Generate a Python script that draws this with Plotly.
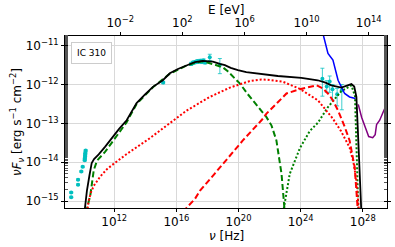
import numpy as np
import plotly.graph_objects as go

H_EV = 4.135667e-15  # Planck constant [eV s]

# ---- model curves (log10 nu [Hz], log10 nuFnu [erg s^-1 cm^-2]) ----
total_lognu = [10.08, 10.24, 10.40, 10.55, 10.7, 11.0, 11.42, 12.0, 12.3, 12.8, 13.44, 14.0, 14.49,
               15.13, 15.58, 16.1, 16.66, 17.2, 17.7, 18.35, 18.8, 19.12, 19.5, 19.96, 20.5, 21.05,
               22.53, 24.05, 25.1, 25.6, 25.98, 26.62, 27.0, 27.27, 27.45, 27.59, 27.67, 27.91]
total_logf = [-15.3, -14.74, -14.35, -14.02, -13.92, -13.8, -13.6, -13.3, -13.15, -12.92, -12.48, -12.25,
              -12.06, -11.89, -11.71, -11.6, -11.5, -11.42, -11.39, -11.41, -11.47, -11.5, -11.57, -11.63,
              -11.68, -11.71, -11.78, -11.83, -11.89, -11.95, -12.02, -12.08, -12.03, -11.99, -12.05,
              -12.32, -13.05, -15.3]

sync_lognu = [10.18, 10.46, 10.68, 10.89, 11.42, 12.0, 12.8, 13.44, 14.49, 15.58, 16.66, 17.19, 17.7,
              18.48, 19.0, 19.31, 20.08, 20.6, 20.92, 21.48, 21.8, 22.12, 22.44, 22.77, 22.98]
sync_logf = [-15.3, -14.85, -14.21, -13.96, -13.73, -13.4, -12.97, -12.5, -12.07, -11.72, -11.51, -11.44,
             -11.4, -11.49, -11.56, -11.66, -11.97, -12.25, -12.4, -12.67, -12.84, -13.05, -13.44, -14.3,
             -15.3]

ssc_lognu = [22.87, 22.98, 23.3, 23.94, 24.26, 24.58, 25.12, 25.76, 26.62, 27.27, 27.5, 27.72]
ssc_logf = [-15.3, -15.07, -14.3, -13.65, -13.44, -13.2, -12.98, -12.58, -12.17, -12.02, -12.3, -15.3]

ext_lognu = [10.25, 10.35, 10.5, 10.68, 11.1, 11.53, 11.94, 12.8, 14.3, 15.79, 16.66, 18.15, 19.44,
             20.73, 21.48, 21.8, 22.87, 23.94, 24.58, 25.12, 26.06, 26.6, 27.15, 27.4, 27.59, 27.76]
ext_logf = [-15.3, -15.0, -14.78, -14.61, -14.37, -14.18, -14.05, -13.79, -13.38, -12.92, -12.67, -12.32,
            -12.08, -11.91, -11.87, -11.875, -11.93, -12.11, -12.28, -12.41, -12.87, -13.2, -13.62, -14.0,
            -14.48, -15.3]

ec_lognu = [16.5, 16.66, 17.19, 17.51, 18.5, 19.33, 20.28, 21.48, 21.8, 22.5, 23.09, 23.94, 24.58, 25.02,
            25.44, 25.8, 26.08, 26.41, 26.8, 27.15, 27.48, 27.69]
ec_logf = [-15.3, -15.17, -14.95, -14.74, -14.28, -13.88, -13.44, -12.92, -12.75, -12.47, -12.23, -12.12,
           -12.06, -12.02, -12.1, -12.25, -12.41, -12.67, -13.05, -13.44, -14.13, -15.3]

sens1_lognu = [25.38, 25.76, 26.08, 26.3, 26.41, 26.62, 26.83, 27.15, 27.53]
sens1_logf = [-10.6, -11.2, -11.37, -11.71, -11.89, -12.06, -12.23, -12.32, -12.36]

sens2_lognu = [27.71, 27.93, 28.19, 28.38, 28.64, 28.8, 28.89, 29.09, 29.28, 29.6]
sens2_logf = [-12.51, -12.85, -13.13, -13.34, -13.37, -13.29, -13.03, -12.92, -12.74, -12.45]

# ---- observed data (log10 nu, log10 nuFnu, err down [dex], err up [dex]) ----
data_lognu = [9.23, 9.23, 9.67, 9.67, 9.88, 9.97, 10.10, 10.11, 10.12, 10.13, 10.14, 10.16,
              15.15,
              16.95, 17.05, 17.15, 17.25, 17.35, 17.45, 17.55, 17.65, 17.75, 17.85, 18.15, 18.8,
              25.40, 25.68, 25.87, 26.05, 26.35, 26.65]
data_logf = [-14.78, -14.9, -14.45, -14.58, -14.24, -14.12, -13.95, -13.9, -13.85, -13.8, -13.76, -13.7,
             -11.95,
             -11.47, -11.44, -11.43, -11.42, -11.4, -11.41, -11.39, -11.42, -11.38, -11.43, -11.3, -11.5,
             -11.85, -12.05, -11.92, -12.12, -12.25, -12.15]
data_errlo = [0.02] * 12 + [0.03] + [0.04] * 10 + [0.08, 0.22] + [0.45, 0.15, 0.28, 0.28, 0.3, 0.5]
data_errhi = [0.02] * 12 + [0.03] + [0.04] * 10 + [0.08, 0.17] + [0.27, 0.15, 0.14, 0.12, 0.15, 0.15]

y_tickvals = [1e-15, 1e-14, 1e-13, 1e-12, 1e-11]
y_ticktext = ["10<sup>\u221215</sup>", "10<sup>\u221214</sup>", "10<sup>\u221213</sup>",
              "10<sup>\u221212</sup>", "10<sup>\u221211</sup>"]
x_tickvals = [1e12, 1e16, 1e20, 1e24, 1e28]
x_ticktext = ["10<sup>12</sup>", "10<sup>16</sup>", "10<sup>20</sup>", "10<sup>24</sup>", "10<sup>28</sup>"]
e_tickvals = [1e-2, 1e2, 1e6, 1e10, 1e14]
e_ticktext = ["10<sup>\u22122</sup>", "10<sup>2</sup>", "10<sup>6</sup>", "10<sup>10</sup>", "10<sup>14</sup>"]

X_LOG_RANGE = [8.83, 29.56]
Y_LOG_RANGE = [-15.18, -10.75]


def lin(a):
    return 10 ** np.asarray(a, dtype=float)


fig = go.Figure()

# data points
dnu = lin(data_lognu)
df = lin(data_logf)
fig.add_trace(go.Scatter(
    x=dnu, y=df, mode="markers",
    marker=dict(color="#00bfbf", size=4),
    error_y=dict(type="data", symmetric=False,
                 array=lin(np.array(data_logf) + np.array(data_errhi)) - df,
                 arrayminus=df - lin(np.array(data_logf) - np.array(data_errlo)),
                 color="rgba(0,191,191,0.75)", thickness=1, width=2),
    showlegend=False))

curves = [
    (sync_lognu, sync_logf, "#008000", 2, "6px,3px"),
    (ssc_lognu, ssc_logf, "#008000", 2, "2px,2px"),
    (ext_lognu, ext_logf, "#ff0000", 2, "2px,2px"),
    (ec_lognu, ec_logf, "#ff0000", 2, "6px,3px"),
    (sens1_lognu, sens1_logf, "#0000ff", 1.5, "solid"),
    (sens2_lognu, sens2_logf, "#800080", 1.5, "solid"),
    (total_lognu, total_logf, "#000000", 1.8, "solid"),
]
for lx, ly, col, w, dash in curves:
    fig.add_trace(go.Scatter(x=lin(lx), y=lin(ly), mode="lines",
                             line=dict(color=col, width=w, dash=dash),
                             showlegend=False, hoverinfo="skip"))

# invisible trace on top (energy) axis
fig.add_trace(go.Scatter(x=[10 ** (X_LOG_RANGE[0]) * H_EV, 10 ** (X_LOG_RANGE[1]) * H_EV],
                         y=[1e-13, 1e-13], xaxis="x2", mode="lines",
                         line=dict(width=0), showlegend=False, hoverinfo="skip"))

font = dict(family="DejaVu Sans", size=12, color="black")
fig.update_layout(
    width=395, height=247,
    margin=dict(l=65, r=8, t=36, b=39, autoexpand=False),
    paper_bgcolor="white", plot_bgcolor="white",
    font=font,
    xaxis=dict(type="log", range=X_LOG_RANGE, tickvals=x_tickvals, ticktext=x_ticktext,
               showgrid=True, gridcolor="#d9d9d9", gridwidth=1, automargin=False,
               showline=True, linecolor="black", linewidth=1, mirror=True,
               ticks="outside", ticklen=3, tickcolor="black",
               tickfont=dict(size=12), zeroline=False),
    xaxis2=dict(type="log", overlaying="x", side="top", automargin=False,
                range=[X_LOG_RANGE[0] + np.log10(H_EV), X_LOG_RANGE[1] + np.log10(H_EV)],
                tickvals=e_tickvals, ticktext=e_ticktext, showgrid=False,
                ticks="outside", ticklen=3, tickcolor="black",
                tickfont=dict(size=12), zeroline=False),
    yaxis=dict(type="log", range=Y_LOG_RANGE, tickvals=y_tickvals, ticktext=y_ticktext,
               showgrid=True, gridcolor="#d9d9d9", gridwidth=1, automargin=False,
               showline=True, linecolor="black", linewidth=1, mirror="allticks",
               ticks="outside", ticklen=3, tickcolor="black",
               minor=dict(ticks="inside", ticklen=2, tickcolor="#555", showgrid=False),
               title=dict(text="<i>\u03bdF</i><sub><i>\u03bd</i></sub> [erg s<sup>\u22121</sup> cm<sup>\u22122</sup>]",
                          standoff=0, font=dict(size=12)),
               tickfont=dict(size=12), zeroline=False),
    annotations=[
        dict(text="IC 310", xref="paper", yref="paper", x=0.018, y=0.965,
             xanchor="left", yanchor="top", showarrow=False,
             font=dict(family="DejaVu Sans", size=9, color="black"),
             bordercolor="#cccccc", borderwidth=1, borderpad=5, bgcolor="white"),
        dict(text="<i>\u03bd</i> [Hz]", xref="paper", yref="paper", x=0.5, y=-0.162,
             xanchor="center", yanchor="middle", showarrow=False,
             font=dict(family="DejaVu Sans", size=12, color="black")),
        dict(text="E [eV]", xref="paper", yref="paper", x=0.5, y=1.152,
             xanchor="center", yanchor="middle", showarrow=False,
             font=dict(family="DejaVu Sans", size=12, color="black")),
    ],
)

fig.write_html("out.html", config={"displayModeBar": False},
               post_script="document.body.style.margin='0px';document.body.style.padding='0px';"
                           "document.body.style.overflow='hidden';")
